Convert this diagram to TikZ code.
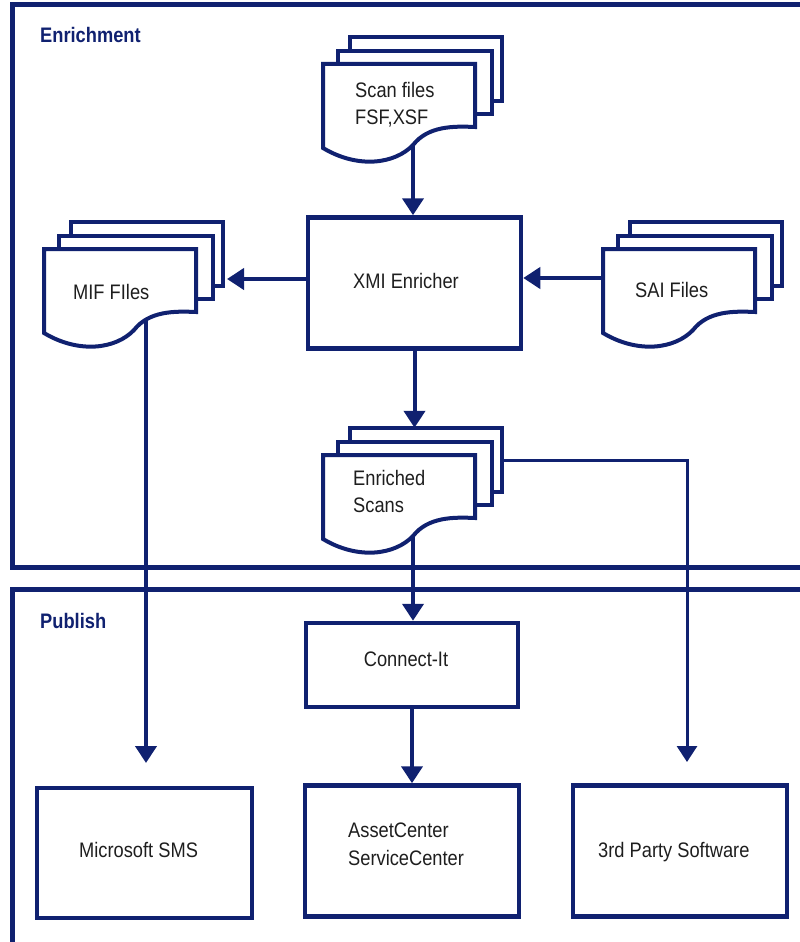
\documentclass[tikz,border=0pt]{standalone}
\usepackage{fontspec}
\setmainfont{Liberation Sans}[FakeStretch=0.87]
\usetikzlibrary{arrows.meta}
\definecolor{navy}{RGB}{16,33,112}
\definecolor{ink}{RGB}{30,30,30}
\tikzset{
 frame/.style={draw=navy, line width=5pt, line join=miter},
 box/.style={draw=navy, line width=4.5pt, inner sep=0pt},
 sheet/.style={draw=navy, line width=4pt, fill=white, line join=miter},
 arr/.style={draw=navy, line width=4pt, -{Triangle[width=21pt,length=17pt]}},
 thinarr/.style={draw=navy, line width=3pt, -{Triangle[width=20pt,length=16pt]}},
 lbl/.style={text=ink, inner sep=0pt, font=\fontsize{21}{27.5}\selectfont},
 head/.style={text=navy, inner sep=0pt, font=\bfseries\fontsize{21}{27}\selectfont},
 hidden/.style={inner sep=0pt, draw=none},
}
\newcommand\docnodes[3]{%
  \node[hidden, minimum width=152pt, minimum height=63pt] (#1) at (#2+76,#3+31.5) {};
  \node[hidden, minimum width=152pt, minimum height=64pt] (#1-back) at (#2+103,#3+5) {};
}
\newcommand\docdraw[2]{%
  \begin{scope}[shift={(#1,#2)}]
    \draw[sheet] (27,-27) rectangle (179,37);
    \draw[sheet] (15,-13) rectangle (169,50);
    \draw[sheet] (0,0) -- (152,0) -- (152,63) .. controls (130,62) and (105,62) .. (90,81) .. controls (72,100) and (35,105) .. (0,84) -- cycle;
  \end{scope}}
\begin{document}
\begin{tikzpicture}[x=1pt,y=-1pt]
\useasboundingbox (0,0) rectangle (800,942);
% frames
\draw[frame] (803,5) -- (12.5,5) -- (12.5,567) -- (803,567);
\draw[frame] (803,589) -- (12.5,589) -- (12.5,945);
\node[head, anchor=base west] (enrich-title) at (40,43) {Enrichment};
\node[head, anchor=base west] (publish-title) at (40,628) {Publish};
% boxes
\node[box, minimum width=213pt, minimum height=131pt] (xmi) at (414.5,283) {};
\node[box, minimum width=212pt, minimum height=84pt] (connect) at (412,665) {};
\node[box, minimum width=215pt, minimum height=130pt] (sms) at (144.5,853) {};
\node[box, minimum width=214pt, minimum height=131pt] (asset) at (412,851) {};
\node[box, minimum width=214pt, minimum height=131pt] (third) at (680,851) {};
% document nodes
\docnodes{scan}{323}{64}
\docnodes{mif}{44}{249}
\docnodes{sai}{603}{249}
\docnodes{enr}{323}{455}
% connectors
\coordinate (scan-out) at (413,110);
\draw[arr] (scan-out) -- (scan-out |- xmi.north);
\path ([yshift=4pt]xmi.west) coordinate (xmi-w);
\coordinate (mif-tip) at (227,279);
\draw[arr] (xmi-w) -- (mif-tip);
\path ([yshift=2.5pt]sai.west) coordinate (sai-w);
\draw[arr] (sai-w) -- (sai-w -| xmi.east);
\draw[arr] (xmi.south) -- (xmi.south |- enr-back.north);
\coordinate (enr-out) at (413,500);
\draw[arr] (enr-out) -- (enr-out |- connect.north);
\coordinate (third-in) at (687,762);
\draw[thinarr] (enr-back.east) -| (third-in);
\draw[arr] (connect.south) -- (asset.north);
\coordinate (mif-out) at (146,300);
\coordinate (sms-in) at (146,763);
\draw[arr] (mif-out) -- (sms-in);
% documents
\docdraw{323}{64}
\docdraw{44}{249}
\docdraw{603}{249}
\docdraw{323}{455}
% labels
\node[lbl, anchor=north west, align=left] (scan-text) at (355,82) {Scan files\\FSF,XSF};
\node[lbl, anchor=base west] (mif-text) at (73,299) {MIF FIles};
\node[lbl, anchor=base west] (sai-text) at (635,297) {SAI Files};
\node[lbl, anchor=north west, align=left] (enr-text) at (353,470) {Enriched\\Scans};
\node[lbl, anchor=base] (xmi-text) at (406,288) {XMI Enricher};
\node[lbl, anchor=base] (connect-text) at (406,666) {Connect-It};
\node[lbl, anchor=base west] (sms-text) at (79,857) {Microsoft SMS};
\node[lbl, anchor=north west, align=left] (asset-text) at (348,823) {AssetCenter\\ServiceCenter};
\node[lbl, anchor=base west] (third-text) at (598,857) {3rd Party Software};
\end{tikzpicture}
\end{document}
